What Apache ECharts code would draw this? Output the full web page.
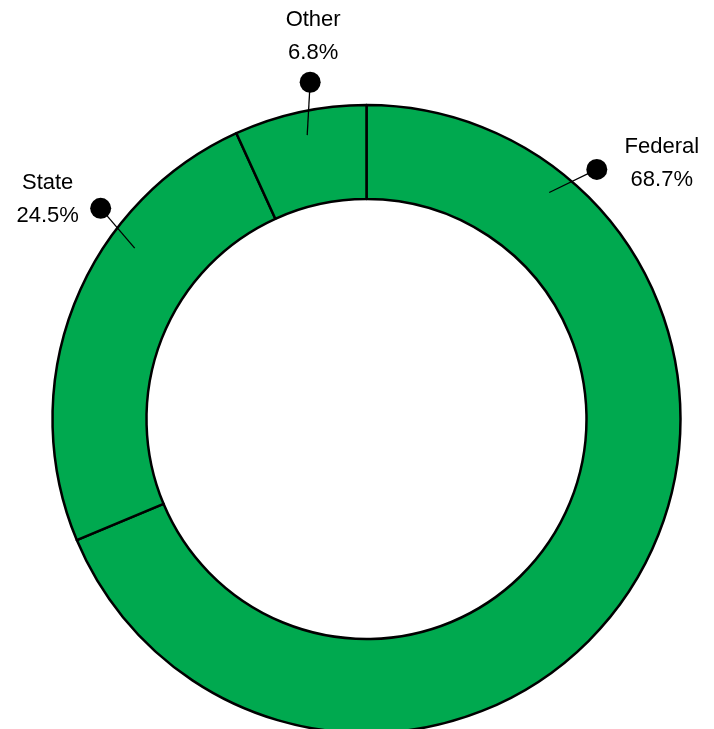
<!DOCTYPE html>
<html>
<head>
<meta charset="utf-8">
<script src="https://cdn.jsdelivr.net/npm/echarts@6/dist/echarts.min.js"></script>
<style>
html,body{margin:0;padding:0;background:#fff;}
#chart{width:714px;height:729px;}
</style>
</head>
<body>
<div id="chart"></div>
<script>
// Data
var categories = ['Federal', 'State', 'Other'];
var shares = [68.7, 24.5, 6.8];
var shareLabels = ['68.7%', '24.5%', '6.8%'];
// Leader line geometry in polar units [radius, angle(deg clockwise from top)]
var lineStart = [[291, 38.9], [288, 306.4], [290, 348.2]];
var dotPos = [[339.6, 42.7], [339.2, 308.4], [341.4, 350.5]];
var labelOffsets = [[65, -6], [-53, -9], [3, -46]];

var CENTER = [366.5, 419];
var OUTER = 314, INNER = 220;
var POLAR_R = 400;

var chart = echarts.init(document.getElementById('chart'));

var lineSeries = categories.map(function (c, i) {
  return {
    type: 'line',
    coordinateSystem: 'polar',
    clip: false,
    data: [lineStart[i], dotPos[i]],
    symbol: 'none',
    lineStyle: { color: '#000', width: 1.3, opacity: 1 },
    silent: true,
    z: 5
  };
});

var option = {
  animation: false,
  backgroundColor: '#fff',
  polar: { center: CENTER, radius: POLAR_R },
  angleAxis: { type: 'value', min: 0, max: 360, startAngle: 90, clockwise: true, show: false },
  radiusAxis: { type: 'value', min: 0, max: POLAR_R, show: false },
  series: [
    {
      type: 'pie',
      center: CENTER,
      radius: [INNER, OUTER],
      startAngle: 90,
      clockwise: true,
      silent: true,
      label: { show: false },
      labelLine: { show: false },
      itemStyle: { color: '#00a94f', borderColor: '#000', borderWidth: 2.5 },
      data: categories.map(function (c, i) { return { name: c, value: shares[i] }; }),
      z: 1
    }
  ].concat(lineSeries).concat([
    {
      type: 'scatter',
      coordinateSystem: 'polar',
      clip: false,
      symbol: 'circle',
      symbolSize: 21,
      itemStyle: { color: '#000', opacity: 1 },
      silent: true,
      z: 10,
      data: categories.map(function (c, i) {
        return {
          name: c,
          value: dotPos[i],
          label: {
            show: true,
            position: 'inside',
            offset: labelOffsets[i],
            align: 'center',
            verticalAlign: 'middle',
            formatter: c + '\n' + shareLabels[i],
            color: '#000',
            opacity: 1,
            fontFamily: 'Liberation Sans, Arial, sans-serif',
            fontSize: 22,
            lineHeight: 33
          }
        };
      })
    }
  ])
};
chart.setOption(option);
</script>
</body>
</html>
